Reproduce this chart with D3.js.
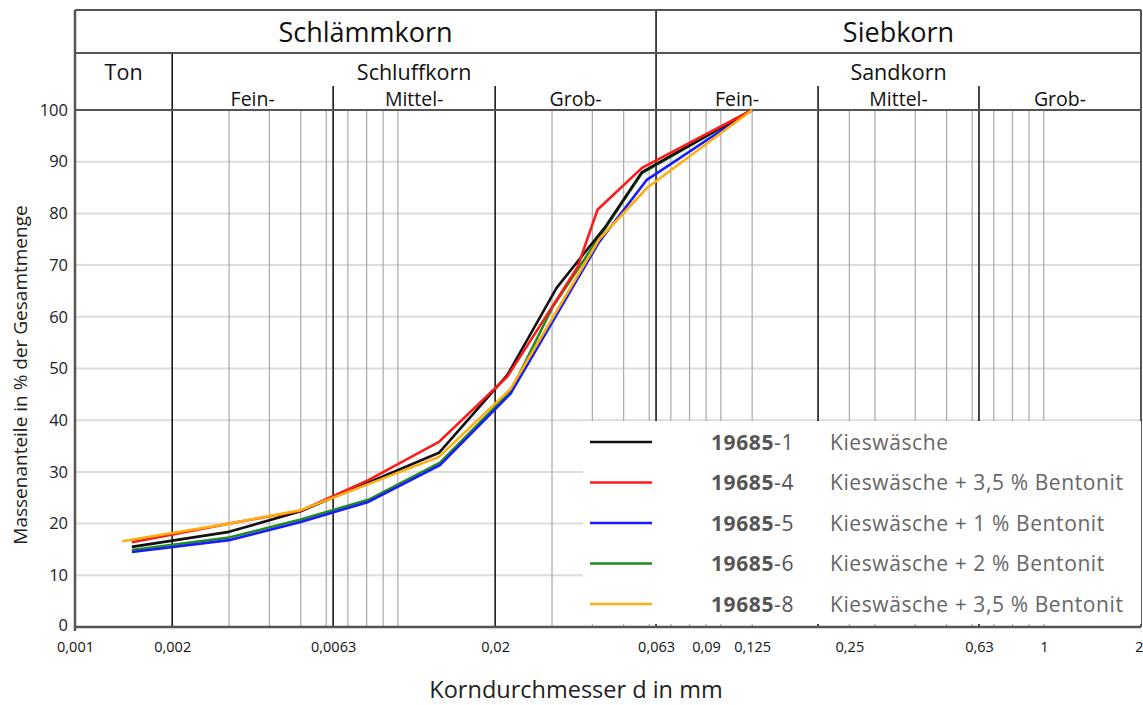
<!DOCTYPE html>
<html>
<head>
<meta charset="utf-8">
<script src="https://cdn.jsdelivr.net/npm/d3@7"></script>
<style>
  html, body { margin: 0; padding: 0; background: #fff; }
  svg { display: block; }
  text { font-family: "Open Sans", Lato, sans-serif; }
</style>
</head>
<body>
<svg id="chart" width="1143" height="705"></svg>
<script>
// Grain size distribution (Körnungslinien), diameter in mm vs. percent passing
const seriesIds = ["19685-1", "19685-4", "19685-5", "19685-6", "19685-8"];
const seriesNames = [
  "Kieswäsche",
  "Kieswäsche + 3,5 % Bentonit",
  "Kieswäsche + 1 % Bentonit",
  "Kieswäsche + 2 % Bentonit",
  "Kieswäsche + 3,5 % Bentonit"
];
const seriesColors = ["#111111", "#ff1a1a", "#1a1aff", "#1e8c1e", "#ffae12"];

const s1 = [[0.0015, 15.5], [0.003, 18.4], [0.005, 22.4], [0.0134, 33.7], [0.0218, 48.7], [0.031, 65.6], [0.044, 77.5], [0.057, 88.0], [0.125, 100]];
const s4 = [[0.0015, 16.4], [0.003, 20.0], [0.005, 22.5], [0.0081, 28.4], [0.0134, 35.8], [0.0218, 48.4], [0.036, 69.6], [0.0415, 80.7], [0.057, 88.8], [0.125, 100]];
const s5 = [[0.0015, 14.5], [0.003, 16.8], [0.005, 20.3], [0.0081, 24.2], [0.0135, 31.3], [0.0223, 45.1], [0.042, 74.5], [0.059, 86.5], [0.125, 100]];
const s6 = [[0.0015, 14.9], [0.003, 17.3], [0.005, 20.8], [0.0081, 24.6], [0.0135, 31.8], [0.0223, 45.5], [0.0302, 62.0], [0.057, 87.8], [0.125, 100]];
const s8 = [[0.0014, 16.6], [0.003, 20.0], [0.005, 22.6], [0.0134, 32.9], [0.0223, 46.0], [0.042, 75.0], [0.059, 84.9], [0.125, 100]];
const seriesValues = [s1, s4, s5, s6, s8];
const drawOrder = [3, 2, 0, 1, 4];

// Axis ticks and grid
const xTickValues = [0.001, 0.002, 0.0063, 0.02, 0.063, 0.09, 0.125, 0.25, 0.63, 1, 2];
const xTickLabels = ["0,001", "0,002", "0,0063", "0,02", "0,063", "0,09", "0,125", "0,25", "0,63", "1", "2"];
const yTickValues = [0, 10, 20, 30, 40, 50, 60, 70, 80, 90, 100];
const minorGrid = [0.003, 0.004, 0.005, 0.006, 0.007, 0.008, 0.009, 0.01,
                   0.03, 0.04, 0.05, 0.06, 0.07, 0.08, 0.09, 0.1, 0.125,
                   0.25, 0.3, 0.4, 0.5, 0.6, 0.7, 0.8, 0.9, 1];
// Fraction boundaries (DIN 4022)
const boundaries = [0.002, 0.0063, 0.02, 0.063, 0.2, 0.63];

// Header bands
const topBands = [{label: "Schlämmkorn", from: 0.001, to: 0.063}, {label: "Siebkorn", from: 0.063, to: 2}];
const midBands = [{label: "Ton", from: 0.001, to: 0.002}, {label: "Schluffkorn", from: 0.002, to: 0.063}, {label: "Sandkorn", from: 0.063, to: 2}];
const subBands = [
  {label: "Fein-", from: 0.002, to: 0.0063}, {label: "Mittel-", from: 0.0063, to: 0.02}, {label: "Grob-", from: 0.02, to: 0.063},
  {label: "Fein-", from: 0.063, to: 0.2}, {label: "Mittel-", from: 0.2, to: 0.63}, {label: "Grob-", from: 0.63, to: 2}
];

(function () {
  const svg = d3.select("#chart");
  const pL = 75, pR = 1141, pT = 110, pB = 627;
  const headTop = 10, headMid = 53, subTop = 86;

  const x = d3.scaleLog().domain([0.001, 2]).range([pL, pR]);
  const y = d3.scaleLinear().domain([0, 100]).range([pB, pT]);

  // horizontal grid
  svg.append("g").selectAll("line").data(yTickValues.filter(v => v > 0 && v < 100)).join("line")
    .attr("x1", pL).attr("x2", pR).attr("y1", d => y(d)).attr("y2", d => y(d))
    .attr("stroke", "#dcdcdc").attr("stroke-width", 2);

  // minor vertical grid
  svg.append("g").selectAll("line").data(minorGrid).join("line")
    .attr("x1", d => x(d)).attr("x2", d => x(d)).attr("y1", pT).attr("y2", pB)
    .attr("stroke", "#a8a8a8").attr("stroke-width", 1.2);

  // fraction boundary lines
  svg.append("g").selectAll("line").data(boundaries).join("line")
    .attr("x1", d => x(d)).attr("x2", d => x(d))
    .attr("y1", d => d === 0.063 ? headTop : d === 0.002 ? headMid : subTop)
    .attr("y2", pB)
    .attr("stroke", "#1a1a1a").attr("stroke-width", 1.6);

  // header frame
  const frame = svg.append("g").attr("stroke", "#555").attr("stroke-width", 2).attr("fill", "none");
  frame.append("line").attr("x1", pL).attr("x2", pR).attr("y1", headTop).attr("y2", headTop);
  frame.append("line").attr("x1", pL).attr("x2", pR).attr("y1", headMid).attr("y2", headMid);
  frame.append("line").attr("x1", pL).attr("x2", pR).attr("y1", pT).attr("y2", pT);
  frame.append("line").attr("x1", pR).attr("x2", pR).attr("y1", headTop).attr("y2", pB);

  svg.append("g").selectAll("text").data(topBands).join("text")
    .attr("x", d => (x(d.from) + x(d.to)) / 2).attr("y", 42)
    .attr("text-anchor", "middle").attr("font-size", 27).attr("fill", "#111")
    .text(d => d.label);
  svg.append("g").selectAll("text").data(midBands).join("text")
    .attr("x", d => (x(d.from) + x(d.to)) / 2).attr("y", 80)
    .attr("text-anchor", "middle").attr("font-size", 21.5).attr("fill", "#111")
    .text(d => d.label);
  svg.append("g").selectAll("text").data(subBands).join("text")
    .attr("x", d => (x(d.from) + x(d.to)) / 2).attr("y", 106)
    .attr("text-anchor", "middle").attr("font-size", 19.5).attr("fill", "#111")
    .text(d => d.label);

  // curves
  const line = d3.line().x(d => x(d[0])).y(d => y(d[1]));
  const curves = svg.append("g").attr("fill", "none").attr("stroke-width", 2.6).attr("stroke-linejoin", "round");
  drawOrder.forEach(i => {
    curves.append("path").datum(seriesValues[i]).attr("d", line).attr("stroke", seriesColors[i]);
  });

  // legend
  const legX = 583, legY = 421;
  const legend = svg.append("g");
  legend.append("rect").attr("x", legX).attr("y", legY).attr("width", pR - legX).attr("height", pB - 3 - legY)
    .attr("fill", "#fff");
  const rows = legend.selectAll("g.row").data(seriesIds).join("g").attr("class", "row")
    .attr("transform", (d, i) => `translate(0, ${442 + i * 40.5})`);
  rows.append("line").attr("x1", 590).attr("x2", 652).attr("y1", 0).attr("y2", 0)
    .attr("stroke", (d, i) => seriesColors[i]).attr("stroke-width", 2.6);
  const idText = rows.append("text").attr("x", 711).attr("y", 7.5).attr("font-size", 21)
    .attr("letter-spacing", 0.6).attr("fill", "#555");
  idText.append("tspan").attr("font-weight", "bold").text(d => d.split("-")[0]);
  idText.append("tspan").text(d => "-" + d.split("-")[1]);
  rows.append("text").attr("x", 830).attr("y", 7.5).attr("font-size", 21)
    .attr("letter-spacing", 0.6).attr("fill", "#666")
    .text((d, i) => seriesNames[i]);

  // axes
  const yAxis = svg.append("g").attr("transform", `translate(${pL},0)`)
    .call(d3.axisLeft(y).tickValues(yTickValues).tickSize(0).tickPadding(7));
  yAxis.select(".domain").remove();
  yAxis.selectAll("text").attr("font-size", 16.5).attr("fill", "#222").attr("font-family", "'Open Sans', sans-serif");
  yAxis.selectAll(".tick").filter(d => d === 0).select("text").attr("dy", "0.2em");

  const xAxis = svg.append("g").attr("transform", `translate(0,${pB})`)
    .call(d3.axisBottom(x).tickValues(xTickValues).tickFormat((d, i) => xTickLabels[i]).tickSize(0).tickPadding(15));
  xAxis.select(".domain").remove();
  xAxis.selectAll("text").attr("font-size", 14.5).attr("fill", "#111").attr("font-family", "'Open Sans', sans-serif");
  // the last label sits on the right edge; keep it inside the page
  xAxis.selectAll(".tick").filter(d => d === 2).select("text").attr("text-anchor", "end").attr("dx", 2);

  svg.append("line").attr("x1", pL).attr("x2", pR).attr("y1", pB).attr("y2", pB)
    .attr("stroke", "#555").attr("stroke-width", 2.5);
  svg.append("line").attr("x1", pL).attr("x2", pL).attr("y1", headTop).attr("y2", pB + 4)
    .attr("stroke", "#555").attr("stroke-width", 2.5);

  // axis titles
  svg.append("text").attr("x", 576).attr("y", 698).attr("text-anchor", "middle")
    .attr("font-size", 23.5).attr("fill", "#222").text("Korndurchmesser d in mm");
  svg.append("text").attr("transform", "translate(27,375) rotate(-90)").attr("text-anchor", "middle")
    .attr("font-size", 19).attr("fill", "#222").text("Massenanteile in % der Gesamtmenge");
})();
</script>
</body>
</html>
